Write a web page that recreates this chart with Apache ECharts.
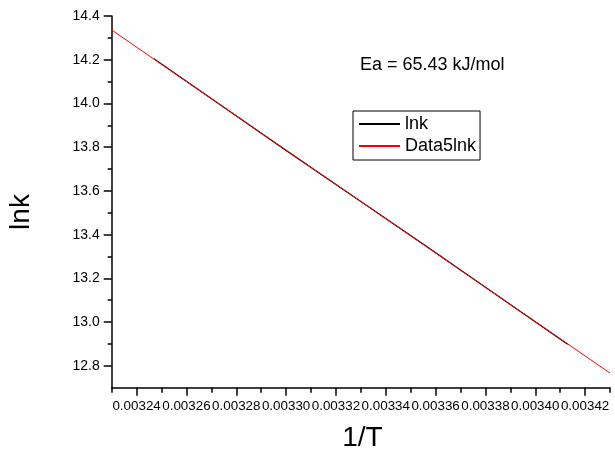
<!DOCTYPE html>
<html>
<head>
<meta charset="utf-8">
<script src="https://cdn.jsdelivr.net/npm/echarts@6/dist/echarts.min.js"></script>
<style>
html,body{margin:0;padding:0;background:#fff;}
#chart{width:615px;height:451px;}
</style>
</head>
<body>
<div id="chart"></div>
<script>
var lnkX = [0.0032468, 0.0033003, 0.0033557, 0.0034130];
var lnkY = [14.206, 13.783, 13.352, 12.899];
var fitX = [0.00323, 0.00343];
var fitY = [14.336, 12.767];
var xMajorTicks = [0.00324, 0.00326, 0.00328, 0.00330, 0.00332, 0.00334, 0.00336, 0.00338, 0.00340, 0.00342];
var xMinorTicks = [0.00323, 0.00325, 0.00327, 0.00329, 0.00331, 0.00333, 0.00335, 0.00337, 0.00339, 0.00341, 0.00343];
var yMajorTicks = [12.8, 13.0, 13.2, 13.4, 13.6, 13.8, 14.0, 14.2, 14.4];
var yMinorTicks = [12.9, 13.1, 13.3, 13.5, 13.7, 13.9, 14.1, 14.3];
var seriesNames = ['lnk', 'Data5lnk'];
var annotation = 'Ea = 65.43 kJ/mol';
var xTitle = '1/T';
var yTitle = 'lnk';

function zip(a, b) { return a.map(function (v, i) { return [v, b[i]]; }); }

var FONT = '"Liberation Sans", Arial, sans-serif';
var chart = echarts.init(document.getElementById('chart'), null, {renderer: 'canvas'});
var axisLineStyle = {color: '#000', width: 1.5};

var option = {
  animation: false,
  backgroundColor: '#fff',
  grid: {left: 111.7, right: 5, top: 16, bottom: 63.3, containLabel: false},
  xAxis: [{
    type: 'value', min: 0.00323, max: 0.00343,
    position: 'bottom',
    axisLine: {show: true, lineStyle: axisLineStyle, onZero: false},
    axisTick: {show: true, inside: false, length: 8, lineStyle: axisLineStyle, customValues: xMajorTicks},
    axisLabel: {show: true, margin: 12, color: '#000', fontSize: 13.4, fontFamily: FONT,
      showMinLabel: true, showMaxLabel: true, hideOverlap: false,
      customValues: xMajorTicks, formatter: function (v) { return v.toFixed(5); }},
    splitLine: {show: false}
  }, {
    type: 'value', min: 0.00323, max: 0.00343,
    position: 'bottom',
    axisLine: {show: false, onZero: false},
    axisTick: {show: true, inside: false, length: 5, lineStyle: axisLineStyle, customValues: xMinorTicks},
    axisLabel: {show: false},
    splitLine: {show: false}
  }],
  yAxis: [{
    type: 'value', min: 12.7, max: 14.4,
    position: 'left',
    axisLine: {show: true, lineStyle: axisLineStyle, onZero: false},
    axisTick: {show: true, inside: false, length: 8, lineStyle: axisLineStyle, customValues: yMajorTicks},
    axisLabel: {show: true, margin: 12, color: '#000', fontSize: 14, fontFamily: FONT,
      showMinLabel: true, showMaxLabel: true,
      customValues: yMajorTicks, formatter: function (v) { return v.toFixed(1); }},
    splitLine: {show: false}
  }, {
    type: 'value', min: 12.7, max: 14.4,
    position: 'left', offset: 0,
    axisLine: {show: false, onZero: false},
    axisTick: {show: true, inside: false, length: 4, lineStyle: axisLineStyle, customValues: yMinorTicks},
    axisLabel: {show: false},
    splitLine: {show: false}
  }],
  legend: {
    show: true, orient: 'vertical', left: 353, top: 111,
    padding: [4, 4, 5, 5],
    itemGap: 4, itemWidth: 41, itemHeight: 14,
    borderColor: '#000', borderWidth: 1, backgroundColor: '#fff',
    itemStyle: {color: 'transparent', borderColor: 'transparent', borderWidth: 0, opacity: 0},
    textStyle: {color: '#000', fontSize: 18, fontFamily: FONT},
    data: seriesNames
  },
  series: [{
    name: seriesNames[0], type: 'line', xAxisIndex: 0, yAxisIndex: 0,
    data: zip(lnkX, lnkY), symbol: 'none', showSymbol: false,
    lineStyle: {color: '#000', width: 1.2}, itemStyle: {color: '#000'}, z: 2
  }, {
    name: seriesNames[1], type: 'line', xAxisIndex: 0, yAxisIndex: 0,
    data: zip(fitX, fitY), symbol: 'none', showSymbol: false,
    lineStyle: {color: '#ff0000', width: 1}, itemStyle: {color: '#ff0000'}, z: 3
  }],
  graphic: [{
    type: 'text', left: 360, top: 56,
    style: {text: annotation, fill: '#000', fontSize: 18, fontFamily: FONT}
  }, {
    type: 'text', x: 362.5, y: 438.5,
    style: {text: xTitle, fill: '#000', fontSize: 28, fontFamily: FONT, align: 'center', verticalAlign: 'middle'}
  }, {
    type: 'text', x: 21, y: 212, rotation: Math.PI / 2,
    style: {text: yTitle, fill: '#000', fontSize: 28, fontFamily: FONT, align: 'center', verticalAlign: 'middle'}
  }]
};
chart.setOption(option);
</script>
</body>
</html>
